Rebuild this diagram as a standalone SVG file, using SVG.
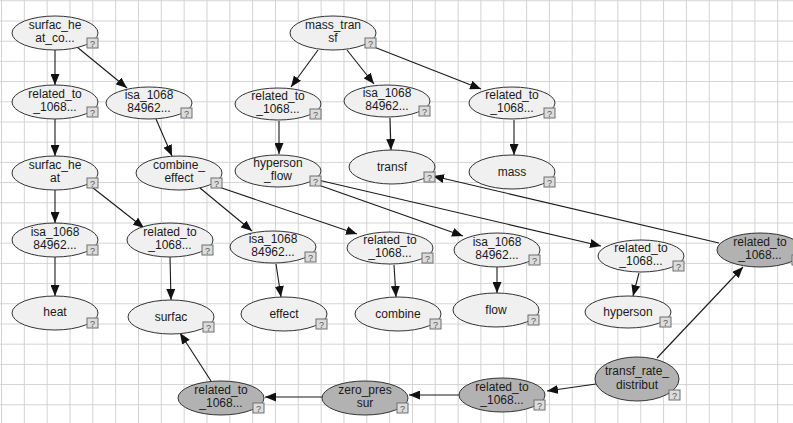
<svg xmlns="http://www.w3.org/2000/svg" width="793" height="423" viewBox="0 0 793 423">
  <defs>
    <pattern id="grid" patternUnits="userSpaceOnUse" x="1" y="0.3" width="22.83" height="20.2">
      <path d="M0.5 0 V20.2 M0 0.5 H22.83" fill="none" stroke="#d2d2d2" stroke-width="1"/>
    </pattern>
    <marker id="arrow" markerUnits="userSpaceOnUse" markerWidth="11" markerHeight="9" refX="11" refY="4.5" orient="auto">
      <path d="M0,0 L11,4.5 L0,9 z" fill="#111"/>
    </marker>
    <g id="qbox">
      <rect x="0" y="0" width="11" height="10" fill="#dcdcdc" stroke="#6e6e6e" stroke-width="1"/>
      <text x="5.5" y="8.5" text-anchor="middle" font-family="Liberation Sans, Arial, sans-serif" font-size="9" fill="#555">?</text>
    </g>
  </defs>
  <style>
    .node ellipse { stroke: #333; stroke-width: 1; }
    .light ellipse { fill: #f0f0f0; }
    .dark ellipse { fill: #b2b2b2; }
    .node text { font-family: "Liberation Sans", Arial, sans-serif; font-size: 12px; fill: #1a1a1a; text-anchor: middle; }
    #edges line { stroke: #1a1a1a; stroke-width: 1.1; marker-end: url(#arrow); }
  </style>

  <rect width="793" height="423" fill="#ffffff"/>
  <rect width="793" height="423" fill="url(#grid)"/>

  <!-- connectors -->
  <g id="edges">
    <line x1="55" y1="50" x2="55" y2="85"/>
    <line x1="77" y1="47" x2="127" y2="88"/>
    <line x1="55" y1="119" x2="55" y2="156"/>
    <line x1="156" y1="119" x2="172" y2="156"/>
    <line x1="55" y1="190" x2="55" y2="223"/>
    <line x1="88" y1="184" x2="144" y2="228"/>
    <line x1="200" y1="188" x2="252" y2="231"/>
    <line x1="210" y1="184" x2="357" y2="234"/>
    <line x1="310" y1="182" x2="463" y2="236"/>
    <line x1="318" y1="180" x2="601" y2="246"/>
    <line x1="318" y1="50" x2="291" y2="87"/>
    <line x1="347" y1="50" x2="374" y2="84"/>
    <line x1="374" y1="47" x2="481" y2="89"/>
    <line x1="279" y1="121" x2="279" y2="154"/>
    <line x1="390" y1="118" x2="391" y2="150"/>
    <line x1="514" y1="120" x2="514" y2="155"/>
    <line x1="55" y1="257" x2="55" y2="296"/>
    <line x1="170" y1="257" x2="171" y2="300"/>
    <line x1="276" y1="264" x2="281" y2="297"/>
    <line x1="394" y1="265" x2="396" y2="297"/>
    <line x1="497" y1="267" x2="497" y2="293"/>
    <line x1="639" y1="273" x2="633" y2="296"/>
    <line x1="719" y1="243" x2="433" y2="176"/>
    <line x1="657" y1="358" x2="743" y2="267"/>
    <line x1="596" y1="384" x2="547" y2="391"/>
    <line x1="459" y1="395" x2="409" y2="395"/>
    <line x1="322" y1="397" x2="265" y2="397"/>
    <line x1="211" y1="381" x2="180" y2="333"/>
  </g>

  <!-- nodes -->
  <g id="surfac_heat_co" class="node light"><ellipse cx="55" cy="33" rx="43" ry="17"/><text x="55" y="29">surfac_he</text><text x="55" y="42">at_co...</text><use href="#qbox" x="87" y="38"/></g>
  <g id="related_to_a" class="node light"><ellipse cx="55" cy="102" rx="43" ry="17"/><text x="55" y="98">related_to</text><text x="55" y="111">_1068...</text><use href="#qbox" x="87" y="107"/></g>
  <g id="isa_a" class="node light"><ellipse cx="149" cy="103" rx="43" ry="16"/><text x="149" y="99">isa_1068</text><text x="149" y="112">84962...</text><use href="#qbox" x="181" y="108"/></g>
  <g id="surfac_heat" class="node light"><ellipse cx="55" cy="173" rx="43" ry="17"/><text x="55" y="169">surfac_he</text><text x="55" y="182">at</text><use href="#qbox" x="87" y="178"/></g>
  <g id="combine_effect" class="node light"><ellipse cx="179" cy="173" rx="43" ry="17"/><text x="179" y="169">combine_</text><text x="179" y="182">effect</text><use href="#qbox" x="211" y="178"/></g>
  <g id="mass_transf" class="node light"><ellipse cx="333" cy="33" rx="43" ry="17"/><text x="333" y="29">mass_tran</text><text x="333" y="42">sf</text><use href="#qbox" x="365" y="38"/></g>
  <g id="related_to_b" class="node light"><ellipse cx="278" cy="104" rx="43" ry="16"/><text x="278" y="100">related_to</text><text x="278" y="113">_1068...</text><use href="#qbox" x="310" y="109"/></g>
  <g id="isa_b" class="node light"><ellipse cx="387" cy="101" rx="43" ry="16"/><text x="387" y="97">isa_1068</text><text x="387" y="110">84962...</text><use href="#qbox" x="419" y="106"/></g>
  <g id="related_to_c" class="node light"><ellipse cx="512" cy="103" rx="43" ry="16"/><text x="512" y="99">related_to</text><text x="512" y="112">_1068...</text><use href="#qbox" x="544" y="108"/></g>
  <g id="hyperson_flow" class="node light"><ellipse cx="278" cy="171" rx="43" ry="16"/><text x="278" y="167">hyperson</text><text x="278" y="180">_flow</text><use href="#qbox" x="310" y="176"/></g>
  <g id="transf" class="node light"><ellipse cx="392" cy="167" rx="43" ry="17"/><text x="392" y="171">transf</text><use href="#qbox" x="424" y="172"/></g>
  <g id="mass" class="node light"><ellipse cx="512" cy="172" rx="43" ry="17"/><text x="512" y="176">mass</text><use href="#qbox" x="544" y="177"/></g>
  <g id="isa_c" class="node light"><ellipse cx="55" cy="240" rx="43" ry="17"/><text x="55" y="236">isa_1068</text><text x="55" y="249">84962...</text><use href="#qbox" x="87" y="245"/></g>
  <g id="related_to_d" class="node light"><ellipse cx="170" cy="240" rx="43" ry="17"/><text x="170" y="236">related_to</text><text x="170" y="249">_1068...</text><use href="#qbox" x="202" y="245"/></g>
  <g id="isa_d" class="node light"><ellipse cx="273" cy="247" rx="43" ry="16"/><text x="273" y="243">isa_1068</text><text x="273" y="256">84962...</text><use href="#qbox" x="305" y="252"/></g>
  <g id="related_to_e" class="node light"><ellipse cx="390" cy="248" rx="43" ry="16"/><text x="390" y="244">related_to</text><text x="390" y="257">_1068...</text><use href="#qbox" x="422" y="253"/></g>
  <g id="isa_e" class="node light"><ellipse cx="497" cy="250" rx="43" ry="17"/><text x="497" y="246">isa_1068</text><text x="497" y="259">84962...</text><use href="#qbox" x="529" y="255"/></g>
  <g id="related_to_f" class="node light"><ellipse cx="641" cy="256" rx="43" ry="16"/><text x="641" y="252">related_to</text><text x="641" y="265">_1068...</text><use href="#qbox" x="673" y="261"/></g>
  <g id="heat" class="node light"><ellipse cx="55" cy="313" rx="43" ry="17"/><text x="55" y="316">heat</text><use href="#qbox" x="87" y="318"/></g>
  <g id="surfac" class="node light"><ellipse cx="171" cy="317" rx="43" ry="17"/><text x="171" y="321">surfac</text><use href="#qbox" x="203" y="322"/></g>
  <g id="effect" class="node light"><ellipse cx="284" cy="314" rx="43" ry="17"/><text x="284" y="318">effect</text><use href="#qbox" x="316" y="319"/></g>
  <g id="combine" class="node light"><ellipse cx="398" cy="314" rx="43" ry="17"/><text x="398" y="318">combine</text><use href="#qbox" x="430" y="319"/></g>
  <g id="flow" class="node light"><ellipse cx="496" cy="310" rx="43" ry="17"/><text x="496" y="314">flow</text><use href="#qbox" x="528" y="315"/></g>
  <g id="hyperson" class="node light"><ellipse cx="628" cy="312" rx="43" ry="16"/><text x="628" y="316">hyperson</text><use href="#qbox" x="660" y="317"/></g>
  <g id="related_to_g" class="node dark"><ellipse cx="760" cy="250" rx="43" ry="17"/><text x="760" y="246">related_to</text><text x="760" y="259">_1068...</text><use href="#qbox" x="792" y="255"/></g>
  <g id="transf_rate_distribut" class="node dark"><ellipse cx="637" cy="379" rx="42" ry="22"/><text x="637" y="375">transf_rate_</text><text x="637" y="389">distribut</text><use href="#qbox" x="669" y="390"/></g>
  <g id="related_to_h" class="node dark"><ellipse cx="502" cy="395" rx="43" ry="17"/><text x="502" y="391">related_to</text><text x="502" y="404">_1068...</text><use href="#qbox" x="534" y="400"/></g>
  <g id="zero_pres_sur" class="node dark"><ellipse cx="365" cy="398" rx="43" ry="17"/><text x="365" y="394">zero_pres</text><text x="365" y="407">sur</text><use href="#qbox" x="397" y="403"/></g>
  <g id="related_to_i" class="node dark"><ellipse cx="221" cy="398" rx="43" ry="17"/><text x="221" y="394">related_to</text><text x="221" y="407">_1068...</text><use href="#qbox" x="253" y="403"/></g>
</svg>
